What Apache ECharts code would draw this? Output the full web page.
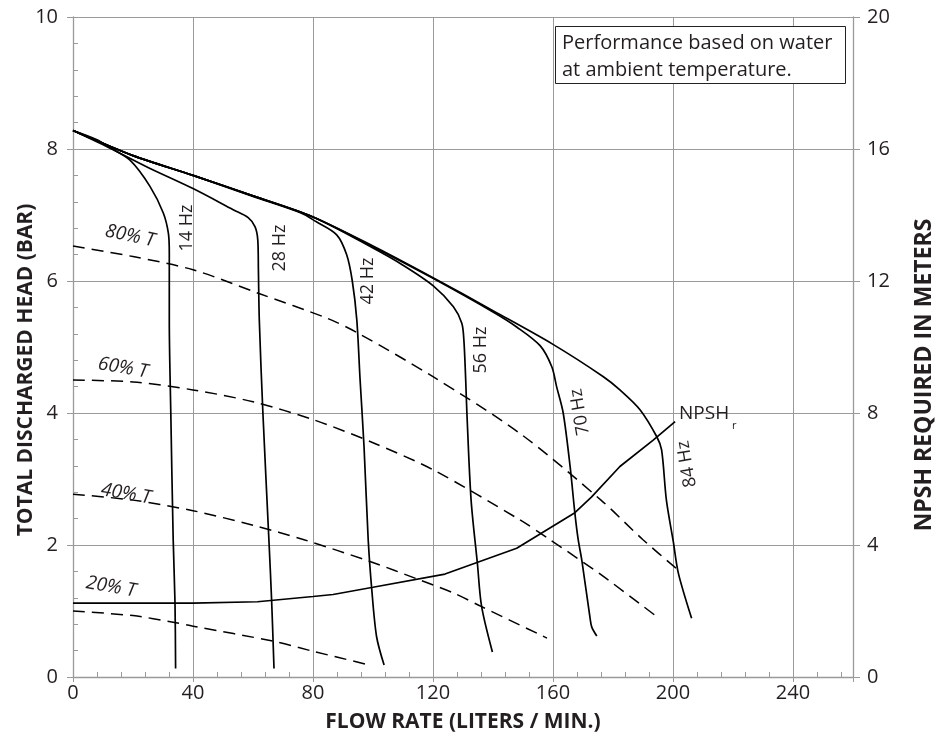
<!DOCTYPE html>
<html><head><meta charset="utf-8">
<script src="https://cdn.jsdelivr.net/npm/echarts@6/dist/echarts.min.js"></script>
<style>html,body{margin:0;padding:0;background:#fff}#c{width:947px;height:747px}</style>
</head><body><div id="c"></div>
<script>
const FONT = '"Open Sans", "Noto Sans", sans-serif';

// Speed curves: [flow L/min, head bar]
const hz14 = [[0,8.28],[8,8.14],[12,8.03],[19,7.83],[25.7,7.43],[30.1,7.03],[31.8,6.72],[32.1,6.42],[32.1,5.41],[32.6,4.0],[33.4,2.08],[34,1.12],[34.2,0.13]];
const hz28 = [[0,8.28],[12,8.02],[25,7.72],[40,7.4],[53.4,7.08],[58.4,6.96],[60.7,6.82],[61.6,6.62],[61.8,6.17],[62.1,5.41],[63.3,4.0],[65.3,2.08],[66.2,1.17],[67,0.13]];
const hz42 = [[0,8.28],[20,7.9],[40,7.6],[60,7.28],[76,7.03],[81,6.9],[87.9,6.7],[91.2,6.4],[93.1,6.0],[94.6,5.41],[95.7,4.5],[97,3.5],[98.4,2.08],[99.6,1.32],[101.2,0.61],[103.7,0.18]];
const hz56 = [[0,8.28],[20,7.9],[40,7.6],[60,7.29],[80,6.97],[100,6.5],[110,6.24],[120,5.93],[126.8,5.61],[129.6,5.36],[130.3,5.1],[130.9,4.5],[131.3,4.0],[132.7,2.68],[134.8,1.72],[136.2,1.07],[139.8,0.38]];
const hz70 = [[0,8.28],[20,7.9],[40,7.6],[60,7.29],[80,6.97],[100,6.52],[120,6.04],[140,5.53],[148,5.3],[155.7,5.02],[159.6,4.7],[161.2,4.4],[163.4,4.0],[165.7,3.19],[167.3,2.48],[168.4,2.08],[169.6,1.77],[172.3,0.91],[172.9,0.76],[174.6,0.62]];
const hz84 = [[0,8.28],[12,8.05],[20,7.9],[40,7.6],[60,7.29],[80,6.97],[100,6.53],[120,6.05],[140,5.55],[160,5.04],[176.8,4.55],[182.3,4.35],[189,4.05],[194.6,3.64],[196.2,3.44],[197.8,2.68],[200.1,2.05],[201.8,1.57],[206.2,0.89]];

// Torque lines (dashed)
const t80 = [[0,6.53],[20,6.37],[40,6.17],[62,5.81],[85,5.43],[95,5.21],[120,4.55],[149,3.69],[176,2.68],[190,2.08],[202.3,1.6]];
const t60 = [[0,4.5],[20,4.47],[40,4.35],[60,4.17],[80,3.9],[100,3.55],[120,3.14],[149,2.38],[159,2.08],[176,1.55],[195,0.9]];
const t40 = [[0,2.77],[20,2.68],[40,2.52],[60,2.3],[77,2.08],[99,1.75],[115,1.48],[127,1.27],[136,1.07],[158,0.59]];
const t20 = [[0,1.0],[20,0.93],[33.4,0.83],[40,0.77],[67,0.54],[80,0.39],[99,0.18]];

// NPSHr on right axis (meters)
const npsh = [[0,2.24],[40,2.24],[61.5,2.28],[80,2.44],[86.7,2.5],[100,2.72],[124,3.12],[147.9,3.9],[167.3,4.98],[172.8,5.45],[182.3,6.38],[193.4,7.18],[200.7,7.74]];

const xMin = 0, xMax = 260, xStep = 40, xMinor = 8;
const yMin = 0, yMax = 10, yStep = 2, yMinor = 0.4;
const y2Min = 0, y2Max = 20, y2Step = 4;

const chart = echarts.init(document.getElementById('c'));
const GRAY = '#9a9a9a';
const TXT = '#231f20';

function solid(name, data) {
  return { name, type: 'line', data, xAxisIndex: 0, yAxisIndex: 0, showSymbol: false, symbol: 'none', smooth: 0.3,
    lineStyle: { color: '#000', width: 1.7 }, z: 5, silent: true };
}
function dashed(name, data) {
  return { name, type: 'line', data, xAxisIndex: 0, yAxisIndex: 0, showSymbol: false, symbol: 'none', smooth: 0.3,
    lineStyle: { color: '#000', width: 1.5, type: [12, 7] }, z: 4, silent: true };
}

function txt(text, x, y, rot, opts) {
  opts = opts || {};
  return { type: 'text', x, y, rotation: rot, z: 50,
    style: { text, fontSize: opts.size || 18, fontFamily: FONT, fontStyle: opts.italic ? 'italic' : 'normal',
      fontWeight: opts.bold ? 'bold' : 'normal', fill: TXT, align: opts.align || 'center', verticalAlign: 'middle' } };
}

const option = {
  backgroundColor: '#fff',
  animation: false,
  grid: { left: 73, right: 94, top: 17, bottom: 70, containLabel: false },
  xAxis: [
    { type: 'value', min: xMin, max: xMax, interval: xStep,
      axisLine: { show: true, onZero: false, lineStyle: { color: GRAY, width: 1.3 } },
      axisTick: { show: true, length: 5, lineStyle: { color: GRAY } },
      axisLabel: { margin: 6, fontSize: 20, fontFamily: FONT, color: TXT, formatter: v => (v === xMax ? '' : String(v)) },
      splitLine: { show: true, lineStyle: { color: GRAY, width: 1 } } },
    { type: 'value', min: xMin, max: xMax, interval: xMinor, position: 'bottom',
      axisLine: { show: false }, axisTick: { show: true, inside: true, length: 5, lineStyle: { color: GRAY } },
      axisLabel: { show: false }, splitLine: { show: false } }
  ],
  yAxis: [
    { type: 'value', min: yMin, max: yMax, interval: yStep, position: 'left',
      axisLine: { show: true, onZero: false, lineStyle: { color: GRAY, width: 1.3 } },
      axisTick: { show: true, length: 6, lineStyle: { color: GRAY } },
      axisLabel: { margin: 15, fontSize: 20, fontFamily: FONT, color: TXT },
      splitLine: { show: true, lineStyle: { color: GRAY, width: 1 } } },
    { type: 'value', min: y2Min, max: y2Max, interval: y2Step, position: 'right',
      axisLine: { show: true, onZero: false, lineStyle: { color: GRAY, width: 1.3 } },
      axisTick: { show: true, length: 7, lineStyle: { color: GRAY } },
      axisLabel: { margin: 14, fontSize: 20, fontFamily: FONT, color: TXT },
      splitLine: { show: false } },
    { type: 'value', min: yMin, max: yMax, interval: yMinor, position: 'left',
      axisLine: { show: false }, axisTick: { show: true, inside: true, length: 5, lineStyle: { color: GRAY } },
      axisLabel: { show: false }, splitLine: { show: false } }
  ],
  series: [
    solid('14 Hz', hz14), solid('28 Hz', hz28), solid('42 Hz', hz42),
    solid('56 Hz', hz56), solid('70 Hz', hz70), solid('84 Hz', hz84),
    dashed('80% T', t80), dashed('60% T', t60), dashed('40% T', t40), dashed('20% T', t20),
    { name: 'NPSHr', type: 'line', data: npsh, xAxisIndex: 0, yAxisIndex: 1, showSymbol: false, symbol: 'none',
      smooth: false, lineStyle: { color: '#000', width: 1.7 }, z: 5, silent: true }
  ],
  graphic: [
    txt('14 Hz', 187, 228, Math.PI / 2),
    txt('28 Hz', 280, 248, Math.PI / 2),
    txt('42 Hz', 368, 281, Math.PI / 2),
    txt('56 Hz', 481, 350, Math.PI / 2),
    txt('70 Hz', 580, 412, Math.PI / 2 + 0.17),
    txt('84 Hz', 687, 464, Math.PI / 2 + 0.17),
    txt('80% T', 130, 236, -0.2, { italic: true, size: 19 }),
    txt('60% T', 123, 368, -0.17, { italic: true, size: 19 }),
    txt('40% T', 126, 494, -0.17, { italic: true, size: 19 }),
    txt('20% T', 111, 587, -0.17, { italic: true, size: 19 }),
    txt('NPSH', 679, 414, 0, { align: 'left', size: 19 }),
    txt('r', 732, 426, 0, { align: 'left', size: 11 }),
    txt('TOTAL DISCHARGED HEAD (BAR)', 26, 370, Math.PI / 2, { bold: true, size: 21 }),
    txt('NPSH REQUIRED IN METERS', 924, 375, Math.PI / 2, { bold: true, size: 23 }),
    txt('FLOW RATE (LITERS / MIN.)', 463, 722, 0, { bold: true, size: 21 }),
    { type: 'rect', z: 40, shape: { x: 555.5, y: 26.5, width: 290, height: 57 },
      style: { fill: '#fff', stroke: '#222', lineWidth: 1 } },
    txt('Performance based on water', 562, 43, 0, { align: 'left', size: 20 }),
    txt('at ambient temperature.', 562, 70, 0, { align: 'left', size: 20 })
  ]
};
chart.setOption(option);
</script>
</body></html>
